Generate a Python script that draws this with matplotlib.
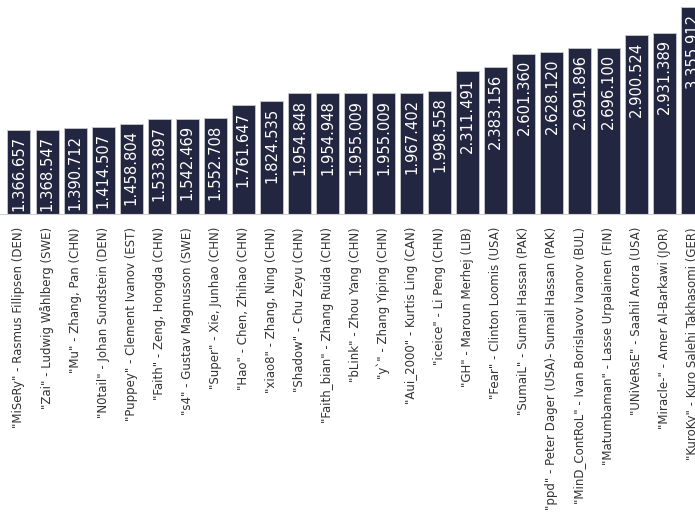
import matplotlib
matplotlib.use("Agg")
import matplotlib.pyplot as plt

# Players and their total earnings (USD)
players = [
    '"MiSeRy" - Rasmus Fillipsen (DEN)',
    '"Zai" - Ludwig Wåhlberg (SWE)',
    '"Mu" - Zhang, Pan (CHN)',
    '"N0tail" - Johan Sundstein (DEN)',
    '"Puppey" - Clement Ivanov (EST)',
    '"Faith" - Zeng, Hongda (CHN)',
    '"s4" - Gustav Magnusson (SWE)',
    '"Super" - Xie, Junhao (CHN)',
    '"Hao" - Chen, Zhihao (CHN)',
    '"xiao8" - Zhang, Ning (CHN)',
    '"Shadow" - Chu Zeyu (CHN)',
    '"Faith_bian" - Zhang Ruida (CHN)',
    '"bLink" - Zhou Yang (CHN)',
    '"y`" - Zhang Yiping (CHN)',
    '"Aui_2000" - Kurtis Ling (CAN)',
    '"iceice" - Li Peng (CHN)',
    '"GH" - Maroun Merhej (LIB)',
    '"Fear" - Clinton Loomis (USA)',
    '"SumaiL" - Sumail Hassan (PAK)',
    '"ppd" - Peter Dager (USA)- Sumail Hassan (PAK)',
    '"MinD_ContRoL" - Ivan Borislavov Ivanov (BUL)',
    '"Matumbaman" - Lasse Urpalainen (FIN)',
    '"UNiVeRsE" - Saahil Arora (USA)',
    '"Miracle-" - Amer Al-Barkawi (JOR)',
    '"KuroKy" - Kuro Salehi Takhasomi (GER)',
]
earnings = [
    1366657, 1368547, 1390712, 1414507, 1458804, 1533897, 1542469,
    1552708, 1761647, 1824535, 1954848, 1954948, 1955009, 1955009,
    1967402, 1998558, 2311491, 2383156, 2601360, 2628120, 2691896,
    2696100, 2900524, 2931389, 3355912,
]

bar_color = "#232640"

fig = plt.figure(figsize=(6.95, 5.16), dpi=100)
ax = fig.add_axes([0, 0.5853, 1, 0.4147])

x = list(range(len(players)))
ax.bar(x, earnings, width=0.82, color=bar_color, edgecolor="#c8c8cc", linewidth=0.6)

for xi, v in zip(x, earnings):
    ax.annotate(f"{v:,}".replace(",", "."), (xi, v), xytext=(0, -4.5),
                textcoords="offset points", rotation=90, ha="center", va="top",
                color="white", fontsize=10.6, family="DejaVu Sans")

ax.set_xlim(-0.677, 24.1)
ax.set_ylim(0, 3.47e6)
ax.set_xticks(x)
ax.set_xticklabels(players, rotation=90, fontsize=8.5, family="DejaVu Sans", color="#333333")
ax.tick_params(axis="x", length=0, pad=9.4)
ax.set_yticks([])
for side in ["top", "left", "right"]:
    ax.spines[side].set_visible(False)
ax.spines["bottom"].set_color("#d0d0d0")
ax.set_facecolor("white")

fig.savefig("out.png", dpi=100)
